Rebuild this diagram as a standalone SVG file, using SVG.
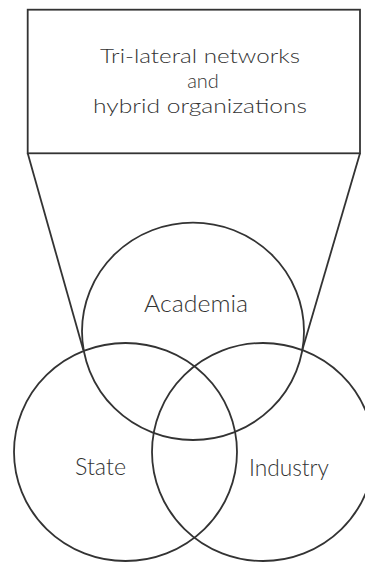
<svg xmlns="http://www.w3.org/2000/svg" width="365" height="563" viewBox="0 0 365 563">
  <style>
    .shape { fill: none; stroke: #333333; stroke-width: 1.8; }
    .label { font-family: "Lato", "Liberation Sans", sans-serif; font-weight: 300; font-size: 23px; fill: #333333; text-anchor: middle; }
    .title { font-size: 20px; }
  </style>
  <rect width="365" height="563" fill="#ffffff"/>

  <!-- Connectors: funnel from the box down to the Academia/State and Academia/Industry crossings -->
  <g id="connectors">
    <line class="shape" x1="27.7" y1="153.3" x2="83.3" y2="350"/>
    <line class="shape" x1="360" y1="153.3" x2="302.3" y2="350"/>
  </g>

  <g id="networks">
    <rect class="shape" x="27.7" y="9.7" width="332.3" height="143.6"/>
    <text class="label title" x="200" y="63" textLength="200" lengthAdjust="spacingAndGlyphs">Tri-lateral networks</text>
    <text class="label title" x="203" y="88">and</text>
    <text class="label title" x="200" y="113" textLength="214" lengthAdjust="spacingAndGlyphs">hybrid organizations</text>
  </g>

  <g id="academia">
    <ellipse class="shape" cx="193" cy="331.3" rx="111" ry="108.7"/>
    <text class="label" x="196" y="311.7" textLength="104" lengthAdjust="spacingAndGlyphs">Academia</text>
  </g>

  <g id="state">
    <ellipse class="shape" cx="125.5" cy="452" rx="111.5" ry="109"/>
    <text class="label" x="100.5" y="475" textLength="51" lengthAdjust="spacingAndGlyphs">State</text>
  </g>

  <g id="industry">
    <ellipse class="shape" cx="263" cy="452" rx="111" ry="109"/>
    <text class="label" x="289" y="476" textLength="80" lengthAdjust="spacingAndGlyphs">Industry</text>
  </g>
</svg>
